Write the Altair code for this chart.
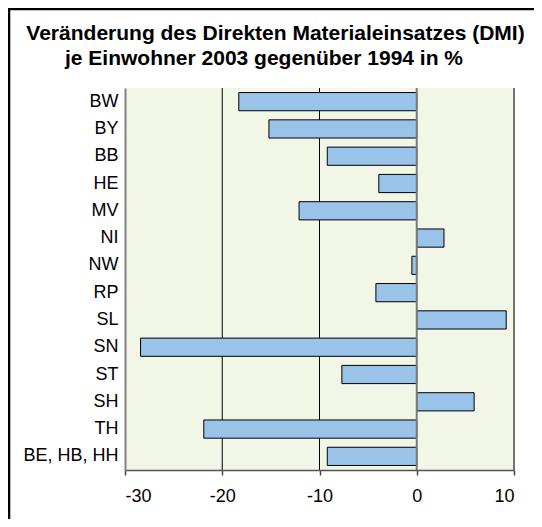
import altair as alt
import pandas as pd

REGIONS = ["BW", "BY", "BB", "HE", "MV", "NI", "NW", "RP", "SL", "SN", "ST", "SH", "TH", "BE, HB, HH"]
CHANGE = [-18.3, -15.2, -9.2, -3.9, -12.1, 2.8, -0.5, -4.2, 9.2, -28.4, -7.7, 5.9, -21.9, -9.2]
X_TICKS = [-30, -20, -10, 0, 10]
GRID_VALUES = [-20, -10, 10]
TITLE_LINES = [
    "Veränderung des Direkten Materialeinsatzes (DMI)",
    "je Einwohner 2003 gegenüber 1994 in %",
]

FONT = "Liberation Sans"
W, H = 389, 382

df = pd.DataFrame({"region": REGIONS, "change": CHANGE})

xscale = alt.Scale(domain=[X_TICKS[0], X_TICKS[-1]], nice=False, zero=False)

bg = alt.Chart(alt.Data(values=[{"lo": X_TICKS[0], "hi": X_TICKS[-1]}])).mark_rect(
    fill="#f2f6e6", strokeWidth=0
).encode(
    x=alt.X("lo:Q", scale=xscale),
    x2="hi:Q",
    y=alt.value(0),
    y2=alt.value(H),
)

grid = alt.Chart(pd.DataFrame({"g": GRID_VALUES})).mark_rule(
    color="#000000", strokeWidth=1
).encode(x=alt.X("g:Q", scale=xscale))

bars = alt.Chart(df).mark_bar(fill="#99c3e8", stroke="#000000", strokeWidth=1).encode(
    x=alt.X(
        "change:Q",
        scale=xscale,
        axis=alt.Axis(
            values=X_TICKS, title=None, grid=False, zindex=1,
            tickSize=5, tickColor="#444444", tickWidth=1.5,
            domainColor="#555555", domainWidth=1.5,
            labelFontSize=18, labelColor="#000000", labelPadding=12, labelFont=FONT,
            labelExpr="'' + datum.value",
        ),
    ),
    y=alt.Y(
        "region:N",
        sort=REGIONS,
        scale=alt.Scale(paddingInner=1 / 3, paddingOuter=1 / 6),
        axis=alt.Axis(
            title=None, ticks=False, domainColor="#808080", domainWidth=2, zindex=1,
            labelFontSize=18, labelColor="#000000", labelPadding=7, labelFont=FONT,
        ),
    ),
)

zero_line = alt.Chart(alt.Data(values=[{"v": 0}])).mark_rule(
    color="#7a7a7a", strokeWidth=2
).encode(x=alt.X("v:Q", scale=xscale))

title1 = alt.Chart(alt.Data(values=[{"t": TITLE_LINES[0]}])).mark_text(
    font=FONT, fontSize=21, fontWeight="bold", align="center", baseline="alphabetic", color="#000000"
).encode(text="t:N", x=alt.value(150.5), y=alt.value(-48.5))

title2 = alt.Chart(alt.Data(values=[{"t": TITLE_LINES[1]}])).mark_text(
    font=FONT, fontSize=21, fontWeight="bold", align="center", baseline="alphabetic", color="#000000"
).encode(text="t:N", x=alt.value(139), y=alt.value(-23.5))

border_left = alt.Chart(alt.Data(values=[{"a": 1}])).mark_rule(color="#000000", strokeWidth=2.3).encode(
    x=alt.value(-115.85), y=alt.value(-80), y2=alt.value(500)
)
border_top = alt.Chart(alt.Data(values=[{"a": 1}])).mark_rule(color="#000000", strokeWidth=2.3).encode(
    x=alt.value(-117), x2=alt.value(500), y=alt.value(-78.85)
)

chart = alt.layer(bg, grid, bars, zero_line, title1, title2, border_left, border_top).properties(
    width=W,
    height=H,
    autosize=alt.AutoSizeParams(type="none"),
    padding={"left": 117, "top": 80, "right": 20, "bottom": 49},
    background="#ffffff",
).configure_view(
    stroke="transparent"
).configure(font=FONT)

chart.save("out.html", embed_options={"renderer": "svg", "actions": False})
